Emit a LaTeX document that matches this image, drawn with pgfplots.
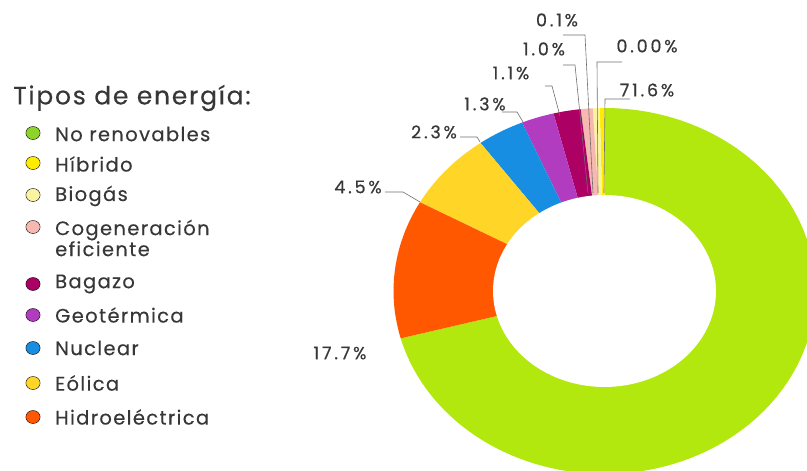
\documentclass[border=0pt]{standalone}
\usepackage{pgfplots}
\pgfplotsset{compat=1.18}
\usepackage{fontspec}
\setmainfont{Poppins}[LetterSpace=7, FakeBold=0.3]
\newfontfamily\labfont{Poppins}[LetterSpace=16, FakeBold=0.5]
\definecolor{cgreen}{RGB}{178,232,14}
\definecolor{lgreen}{RGB}{140,212,40}
\definecolor{chib}{RGB}{255,236,0}
\definecolor{cbio}{RGB}{250,244,160}
\definecolor{ccog}{RGB}{246,184,176}
\definecolor{cbag}{RGB}{172,0,100}
\definecolor{cgeo}{RGB}{178,60,192}
\definecolor{cnuc}{RGB}{24,142,226}
\definecolor{ceol}{RGB}{255,214,40}
\definecolor{chid}{RGB}{255,88,0}
\definecolor{ctxt}{RGB}{55,55,55}
\definecolor{cline}{RGB}{110,110,110}
\begin{document}
\begin{tikzpicture}
\begin{axis}[x=1pt,y=1pt,xmin=0,xmax=807,ymin=0,ymax=471,
  hide axis, at={(0,0)}, anchor=south west, clip=true,
  every axis plot/.append style={draw=none}]
% donut sectors: angle ranges (degrees) as drawn
\addplot[fill=cgreen, domain=-165:90, samples=120, variable=\t] ({604.5+211*cos(\t)},{180+183*sin(\t)}) -- (axis cs:604.5,180) -- cycle;
\addplot[fill=chib, domain=90:91.3, samples=4, variable=\t] ({604.5+211*cos(\t)},{180+183*sin(\t)}) -- (axis cs:604.5,180) -- cycle;
\addplot[fill=cbio, domain=91.3:93.2, samples=4, variable=\t] ({604.5+211*cos(\t)},{180+183*sin(\t)}) -- (axis cs:604.5,180) -- cycle;
\addplot[fill=ccog, domain=93.2:96.5, samples=4, variable=\t] ({604.5+211*cos(\t)},{180+183*sin(\t)}) -- (axis cs:604.5,180) -- cycle;
\addplot[fill=cbag, domain=96.5:104, samples=6, variable=\t] ({604.5+211*cos(\t)},{180+183*sin(\t)}) -- (axis cs:604.5,180) -- cycle;
\addplot[fill=cgeo, domain=104:113, samples=6, variable=\t] ({604.5+211*cos(\t)},{180+183*sin(\t)}) -- (axis cs:604.5,180) -- cycle;
\addplot[fill=cnuc, domain=113:126, samples=8, variable=\t] ({604.5+211*cos(\t)},{180+183*sin(\t)}) -- (axis cs:604.5,180) -- cycle;
\addplot[fill=ceol, domain=126:151, samples=12, variable=\t] ({604.5+211*cos(\t)},{180+183*sin(\t)}) -- (axis cs:604.5,180) -- cycle;
\addplot[fill=chid, domain=151:195, samples=20, variable=\t] ({604.5+211*cos(\t)},{180+183*sin(\t)}) -- (axis cs:604.5,180) -- cycle;
% hole
\addplot[fill=white, domain=0:360, samples=120, variable=\t] ({604.5+111.5*cos(\t)},{180+96*sin(\t)}) -- cycle;
% leader lines
\draw[cline, line width=0.6pt] (axis cs:563,436) -- (axis cs:585,436) -- (axis cs:593,278);
\draw[cline, line width=0.6pt] (axis cs:563,406) -- (axis cs:575,406) -- (axis cs:588,278);
\draw[cline, line width=0.6pt] (axis cs:622,409) -- (axis cs:597,409) -- (axis cs:598,278);
\draw[cline, line width=0.6pt] (axis cs:545,385) -- (axis cs:552,385) -- (axis cs:560,355);
\draw[cline, line width=0.6pt] (axis cs:630,372) -- (axis cs:605,372) -- (axis cs:604,278);
\draw[cline, line width=0.6pt] (axis cs:502,359) -- (axis cs:517,359) -- (axis cs:523,349);
\draw[cline, line width=0.6pt] (axis cs:460,334) -- (axis cs:477,334) -- (axis cs:480,329);
\draw[cline, line width=0.6pt] (axis cs:385,279) -- (axis cs:403,279) -- (axis cs:420,269);
% percentage labels
\begin{scope}[every node/.style={text=ctxt, font=\labfont\fontsize{17.5}{19}\selectfont, inner sep=0pt}]
\node at (axis cs:557,451) {0.1\%};
\node at (axis cs:544,422) {1.0\%};
\node at (axis cs:647,425) {0.00\%};
\node at (axis cs:511,398) {1.1\%};
\node at (axis cs:647,381) {71.6\%};
\node at (axis cs:485,367) {1.3\%};
\node at (axis cs:434,339) {2.3\%};
\node at (axis cs:358,284) {4.5\%};
\node at (axis cs:340,118) {17.7\%};
\end{scope}
% legend markers
\pgfplotsset{legdot/.style={only marks, mark=*, mark size=6.5pt, mark options={draw=none, fill=#1, xscale=1.1}}}
\addplot[legdot=lgreen] coordinates {(33,338)};
\addplot[legdot=chib] coordinates {(33,308)};
\addplot[legdot=cbio] coordinates {(33,276)};
\addplot[legdot=ccog] coordinates {(33,244)};
\addplot[legdot=cbag] coordinates {(33,187)};
\addplot[legdot=cgeo] coordinates {(33,156)};
\addplot[legdot=cnuc] coordinates {(33,123)};
\addplot[legdot=ceol] coordinates {(33,88)};
\addplot[legdot=chid] coordinates {(33,54)};
\begin{scope}[every node/.style={text=ctxt, font=\fontsize{19.5}{21}\selectfont, inner sep=0pt, anchor=west}]
\node[font=\fontsize{25}{28}\selectfont] at (axis cs:13,373) {Tipos de energía:};
\node at (axis cs:55,337) {No renovables};
\node at (axis cs:55,307) {Híbrido};
\node at (axis cs:55,275) {Biogás};
\node[align=left, font=\fontsize{19.5}{21}\selectfont] at (axis cs:55,233) {Cogeneración\\eficiente};
\node at (axis cs:55,187) {Bagazo};
\node at (axis cs:55,156) {Geotérmica};
\node at (axis cs:55,123) {Nuclear};
\node at (axis cs:55,88) {Eólica};
\node at (axis cs:55,54) {Hidroeléctrica};
\end{scope}
\end{axis}
\pgfresetboundingbox
\path (0,0) rectangle (807pt,471pt);
\end{tikzpicture}
\end{document}
